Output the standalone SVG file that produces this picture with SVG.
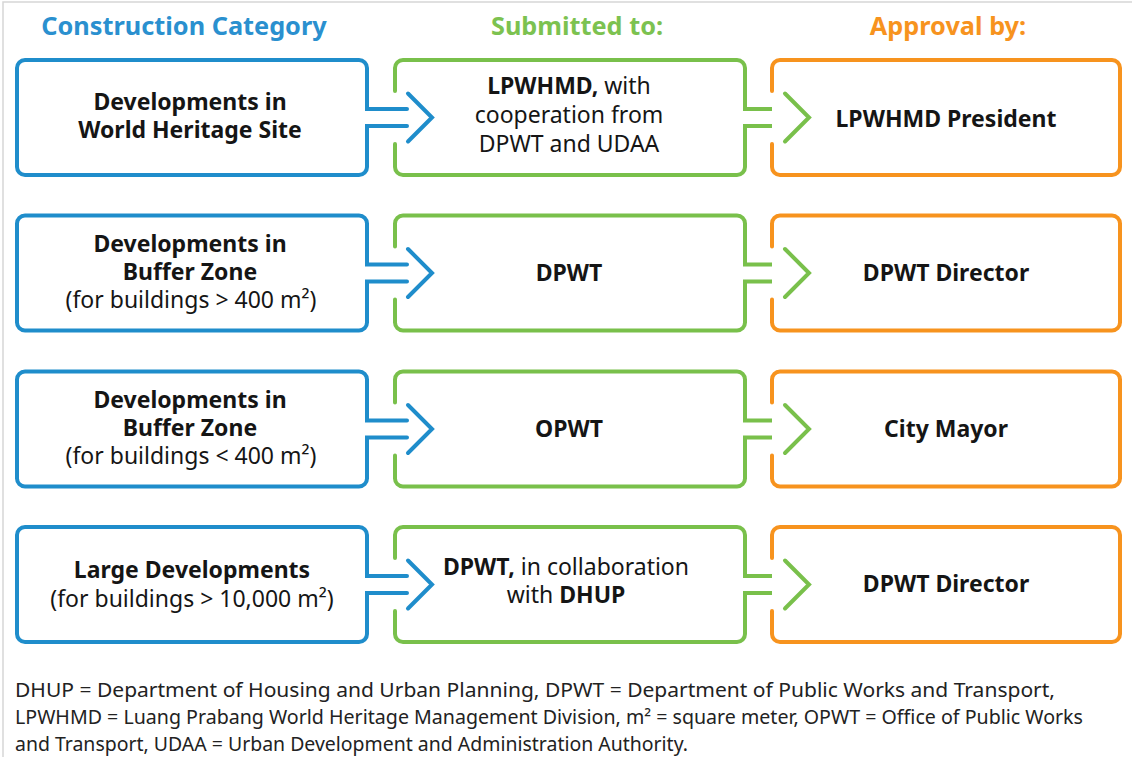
<svg xmlns="http://www.w3.org/2000/svg" width="1132" height="757" viewBox="0 0 1132 757">
  <defs>
    <style>
      .frame { fill: #ffffff; stroke: #d6d6d6; stroke-width: 1.5; }
      .box { fill: #ffffff; stroke-width: 4; stroke-linecap: round; stroke-linejoin: miter; }
      .blue { stroke: #1f8dcb; }
      .green { stroke: #79c04b; }
      .orange { stroke: #f7931e; }
      .chev { fill: none; stroke-width: 4; stroke-linecap: round; stroke-linejoin: miter; }
      .hdr { font-family: "Noto Sans", "Open Sans", sans-serif; font-weight: 700; font-size: 25.3px; text-anchor: middle; }
      .t { font-family: "Noto Sans", "Open Sans", sans-serif; font-size: 23px; fill: #151515; text-anchor: middle; }
      .b { font-weight: 700; }
      .r { font-weight: 400; }
      .note { font-family: "Noto Sans", "Open Sans", sans-serif; font-size: 19.5px; fill: #222222; }
    </style>
    <!-- box outlines in local coordinates (350 x 115, corner radius 8) -->
    <!-- first column: closed left side, outgoing arms on the right -->
    <path id="shape-src" d="M 390 66 H 350 V 107 A 8 8 0 0 1 342 115 H 8 A 8 8 0 0 1 0 107 V 8 A 8 8 0 0 1 8 0 H 342 A 8 8 0 0 1 350 8 V 49 H 390"/>
    <!-- middle column: opening on the left, outgoing arms on the right -->
    <path id="shape-mid" d="M 0 31 V 8 A 8 8 0 0 1 8 0 H 342 A 8 8 0 0 1 350 8 V 49 H 389 M 389 66 H 350 V 107 A 8 8 0 0 1 342 115 H 8 A 8 8 0 0 1 0 107 V 84"/>
    <!-- last column: opening on the left only -->
    <path id="shape-end" d="M 0 31 V 8 A 8 8 0 0 1 8 0 H 340 A 8 8 0 0 1 348 8 V 107 A 8 8 0 0 1 340 115 H 8 A 8 8 0 0 1 0 107 V 84"/>
  </defs>

  <rect class="frame" x="3" y="2" width="1150" height="800"/>

  <!-- column headings -->
  <g id="headings">
    <text class="hdr" x="184" y="35" fill="#2a90cf">Construction Category</text>
    <text class="hdr" x="577" y="35" fill="#7cc250">Submitted to:</text>
    <text class="hdr" x="948" y="35" fill="#f7931e">Approval by:</text>
  </g>

  <!-- row 1 -->
  <g id="cat-whs">
    <use href="#shape-src" class="box blue" transform="translate(17,60)"/>
    <text class="t b" x="190" y="110">Developments in<tspan x="190" dy="28">World Heritage Site</tspan></text>
  </g>
  <g id="sub-lpwhmd">
    <use href="#shape-mid" class="box green" transform="translate(395,60)"/>
    <text class="t" x="569" y="94"><tspan class="b">LPWHMD,</tspan> with<tspan x="569" dy="29">cooperation from</tspan><tspan x="569" dy="29">DPWT and UDAA</tspan></text>
  </g>
  <g id="app-lpwhmd-president">
    <use href="#shape-end" class="box orange" transform="translate(772,60)"/>
    <text class="t b" x="946" y="127">LPWHMD President</text>
  </g>

  <!-- row 2 -->
  <g id="cat-buffer-large">
    <use href="#shape-src" class="box blue" transform="translate(17,215.5)"/>
    <text class="t b" x="190" y="252">Developments in<tspan x="190" dy="28">Buffer Zone</tspan><tspan class="r" x="191" dy="28">(for buildings &gt; 400 m²)</tspan></text>
  </g>
  <g id="sub-dpwt">
    <use href="#shape-mid" class="box green" transform="translate(395,215.5)"/>
    <text class="t b" x="569" y="281">DPWT</text>
  </g>
  <g id="app-dpwt-director-1">
    <use href="#shape-end" class="box orange" transform="translate(772,215.5)"/>
    <text class="t b" x="946" y="281">DPWT Director</text>
  </g>

  <!-- row 3 -->
  <g id="cat-buffer-small">
    <use href="#shape-src" class="box blue" transform="translate(17,371.5)"/>
    <text class="t b" x="190" y="408">Developments in<tspan x="190" dy="28">Buffer Zone</tspan><tspan class="r" x="191" dy="28">(for buildings &lt; 400 m²)</tspan></text>
  </g>
  <g id="sub-opwt">
    <use href="#shape-mid" class="box green" transform="translate(395,371.5)"/>
    <text class="t b" x="569" y="437">OPWT</text>
  </g>
  <g id="app-city-mayor">
    <use href="#shape-end" class="box orange" transform="translate(772,371.5)"/>
    <text class="t b" x="946" y="437">City Mayor</text>
  </g>

  <!-- row 4 -->
  <g id="cat-large">
    <use href="#shape-src" class="box blue" transform="translate(17,527)"/>
    <text class="t b" x="192" y="578">Large Developments<tspan class="r" x="192" dy="29">(for buildings &gt; 10,000 m²)</tspan></text>
  </g>
  <g id="sub-dpwt-dhup">
    <use href="#shape-mid" class="box green" transform="translate(395,527)"/>
    <text class="t" x="566" y="575"><tspan class="b">DPWT,</tspan> in collaboration<tspan x="566" dy="28">with <tspan class="b">DHUP</tspan></tspan></text>
  </g>
  <g id="app-dpwt-director-2">
    <use href="#shape-end" class="box orange" transform="translate(772,527)"/>
    <text class="t b" x="946" y="592">DPWT Director</text>
  </g>

  <!-- chevron arrowheads between columns -->
  <g id="connectors">
    <polyline class="chev blue" points="408,93.5 432,117.5 408,141.5"/>
    <polyline class="chev green" points="785,93.5 809,117.5 785,141.5"/>
    <polyline class="chev blue" points="408,249 432,273 408,297"/>
    <polyline class="chev green" points="785,249 809,273 785,297"/>
    <polyline class="chev blue" points="408,405 432,429 408,453"/>
    <polyline class="chev green" points="785,405 809,429 785,453"/>
    <polyline class="chev blue" points="408,560.5 432,584.5 408,608.5"/>
    <polyline class="chev green" points="785,560.5 809,584.5 785,608.5"/>
  </g>

  <!-- abbreviations, one line each, fitted to the page width -->
  <g id="notes">
    <text class="note" x="15" y="697" textLength="1040" lengthAdjust="spacingAndGlyphs">DHUP = Department of Housing and Urban Planning, DPWT = Department of Public Works and Transport,</text>
    <text class="note" x="15" y="724" textLength="1068" lengthAdjust="spacingAndGlyphs">LPWHMD = Luang Prabang World Heritage Management Division, m² = square meter, OPWT = Office of Public Works</text>
    <text class="note" x="15" y="751" textLength="673" lengthAdjust="spacingAndGlyphs">and Transport, UDAA = Urban Development and Administration Authority.</text>
  </g>
</svg>
